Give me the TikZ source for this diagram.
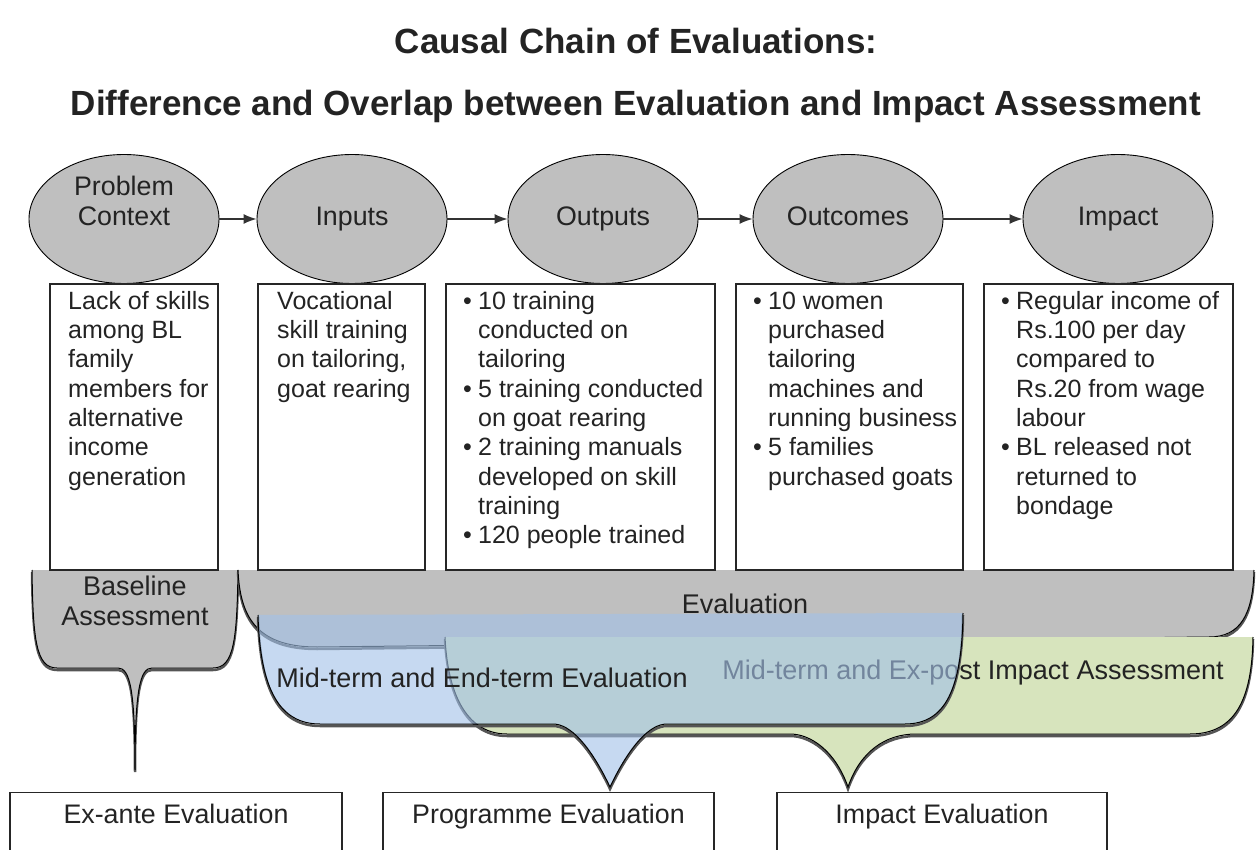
\documentclass[tikz,border=0pt]{standalone}
\usepackage{fontspec}
\setmainfont{Liberation Sans}
\usetikzlibrary{shapes.geometric,arrows.meta}
\definecolor{ellgray}{RGB}{191,191,191}
\definecolor{midblue}{RGB}{163,194,232}
\definecolor{impgreen}{RGB}{215,228,189}
\definecolor{darkline}{RGB}{85,85,85}
\definecolor{inkgray}{RGB}{35,35,35}
% brace shaped bands under the boxes (open paths, top edge closed by -- cycle)
\newcommand{\BaseBrace}{(32,570) .. controls (33,640) and (36,668) .. (57,668) -- (118,668) .. controls (130,668) and (135,690) .. (135,770) .. controls (135,690) and (140,668) .. (152,668) -- (213,668) .. controls (234,668) and (237,640) .. (238,570)}
\newcommand{\EvalBrace}{(238,570) .. controls (240,615) and (255,647) .. (317,647) -- (1209,637) .. controls (1240,637) and (1253,615) .. (1254,570)}
\newcommand{\MidBrace}{(258,615) .. controls (260,690) and (280,724) .. (320,724) -- (553,724) .. controls (570,724) and (590,745) .. (610,787) .. controls (630,745) and (650,724) .. (667,724) -- (905,724) .. controls (945,724) and (962,690) .. (963,613)}
\newcommand{\ImpBrace}{(445,637) .. controls (448,700) and (470,734) .. (507,734) -- (790,734) .. controls (810,734) and (835,750) .. (848,787) .. controls (860,752) and (885,734) .. (916,734) -- (1190,734) .. controls (1235,734) and (1252,700) .. (1253,637)}
\newcommand{\bul}{\makebox[15pt][l]{\textbullet}}

\begin{document}
\begin{tikzpicture}[x=1pt,y=-1pt,
  stage/.style={ellipse,draw=black,line width=0.9pt,fill=ellgray,minimum width=190pt,minimum height=129pt,inner sep=0pt,align=center,text height=19.5pt,text depth=5.5pt,font=\fontsize{26.8}{30}\selectfont,text=inkgray},
  stagetext/.style={inner sep=0pt,align=center,font=\fontsize{26.8}{30}\selectfont,text=inkgray},
  detail/.style={draw=black!85,line width=1.1pt,anchor=north west,inner sep=0pt,outer sep=0pt},
  boxtext/.style={anchor=north west,inner sep=0pt,font=\fontsize{25}{29.3}\selectfont,text=inkgray},
  flow/.style={-{Latex[length=13pt,width=10pt]},line width=1.4pt,draw=black!80},
  outline/.style={draw=black,line width=1pt},
  dropline/.style={draw=darkline,line width=2.5pt,shift={(0,2)}},
  lbl/.style={inner sep=0pt,align=center,font=\fontsize{27}{30}\selectfont,text=inkgray},
  headline/.style={anchor=base,inner sep=0pt,font=\fontsize{35}{40}\selectfont\bfseries,text=inkgray},
  endbox/.style={draw=black!85,line width=1.1pt,anchor=north,inner xsep=0pt,inner ysep=12pt,text height=19pt,text depth=40pt,font=\fontsize{26.8}{30}\selectfont,text=inkgray}]
\useasboundingbox (0,0) rectangle (1256,850);
\clip (0,0) rectangle (1256,850);

% title
\node[headline] (head1) at (636,54) {Causal Chain of Evaluations:};
\node[headline] (head2) at (636,116) {Difference and Overlap between Evaluation and Impact Assessment};

% baseline assessment
\draw[dropline] \BaseBrace;
\fill[ellgray] \BaseBrace -- cycle;
\draw[outline] \BaseBrace;
\node[lbl] (baselbl) at (135,601) {Baseline\\Assessment};

% evaluation
\draw[dropline] \EvalBrace;
\fill[ellgray] \EvalBrace -- cycle;
\draw[outline] \EvalBrace;
\node[lbl,anchor=base] (evallbl) at (745,613) {Evaluation};

% impact assessment
\draw[dropline] \ImpBrace;
\fill[impgreen] \ImpBrace -- cycle;
\draw[outline] \ImpBrace;
\node[lbl,anchor=base] (implbl) at (973,679) {Mid-term and Ex-post Impact Assessment};

% mid-term and end-term evaluation (see-through)
\draw[dropline] \MidBrace;
\fill[midblue,fill opacity=0.62] \MidBrace -- cycle;
\draw[outline] \MidBrace;
\node[lbl,anchor=base] (midlbl) at (482,687) {Mid-term and End-term Evaluation};

% causal chain
\node[stage] (pc) at (124,219) {};
\node[stagetext] (pctxt) at (124,201) {Problem\\Context};
\node[stage] (inp) at (352,219) {Inputs};
\node[stage] (outp) at (603,219) {Outputs};
\node[stage] (outc) at (848,219) {Outcomes};
\node[stage] (imp) at (1118,219) {Impact};
\draw[flow] (pc) -- (inp);
\draw[flow] (inp) -- (outp);
\draw[flow] (outp) -- (outc);
\draw[flow] (outc) -- (imp);

% detail boxes
\node[detail,minimum width=168pt,minimum height=286pt] (pcbox) at (50,284) {};
\node[detail,minimum width=167pt,minimum height=286pt] (inpbox) at (258,284) {};
\node[detail,minimum width=269pt,minimum height=286pt] (outpbox) at (446,284) {};
\node[detail,minimum width=227pt,minimum height=286pt] (outcbox) at (736,284) {};
\node[detail,minimum width=249pt,minimum height=286pt] (impbox) at (984,284) {};

\node[boxtext] (pclist) at ([xshift=18pt,yshift=-4.5pt]pcbox.north west)
  {\begin{tabular}{@{}l@{}}Lack of skills\\among BL\\family\\members for\\alternative\\income\\generation\end{tabular}};
\node[boxtext] (inplist) at ([xshift=19pt,yshift=-4.5pt]inpbox.north west)
  {\begin{tabular}{@{}l@{}}Vocational\\skill training\\on tailoring,\\goat rearing\end{tabular}};
\node[boxtext] (outplist) at ([xshift=17pt,yshift=-4.5pt]outpbox.north west)
  {\begin{tabular}{@{}l@{}l@{}}\bul&10 training\\&conducted on\\&tailoring\\
   \bul&5 training conducted\\&on goat rearing\\
   \bul&2 training manuals\\&developed on skill\\&training\\
   \bul&120 people trained\end{tabular}};
\node[boxtext] (outclist) at ([xshift=17pt,yshift=-4.5pt]outcbox.north west)
  {\begin{tabular}{@{}l@{}l@{}}\bul&10 women\\&purchased\\&tailoring\\&machines and\\&running business\\
   \bul&5 families\\&purchased goats\end{tabular}};
\node[boxtext] (implist) at ([xshift=17pt,yshift=-4.5pt]impbox.north west)
  {\begin{tabular}{@{}l@{}l@{}}\bul&Regular income of\\&Rs.100 per day\\&compared to\\&Rs.20 from wage\\&labour\\
   \bul&BL released not\\&returned to\\&bondage\end{tabular}};

% kinds of evaluation
\node[endbox,minimum width=332pt] (exante) at (176,792) {Ex-ante Evaluation};
\node[endbox,minimum width=331pt] (progev) at (548.5,792) {Programme Evaluation};
\node[endbox,minimum width=330pt] (impev) at (942,792) {Impact Evaluation};
\end{tikzpicture}
\end{document}
